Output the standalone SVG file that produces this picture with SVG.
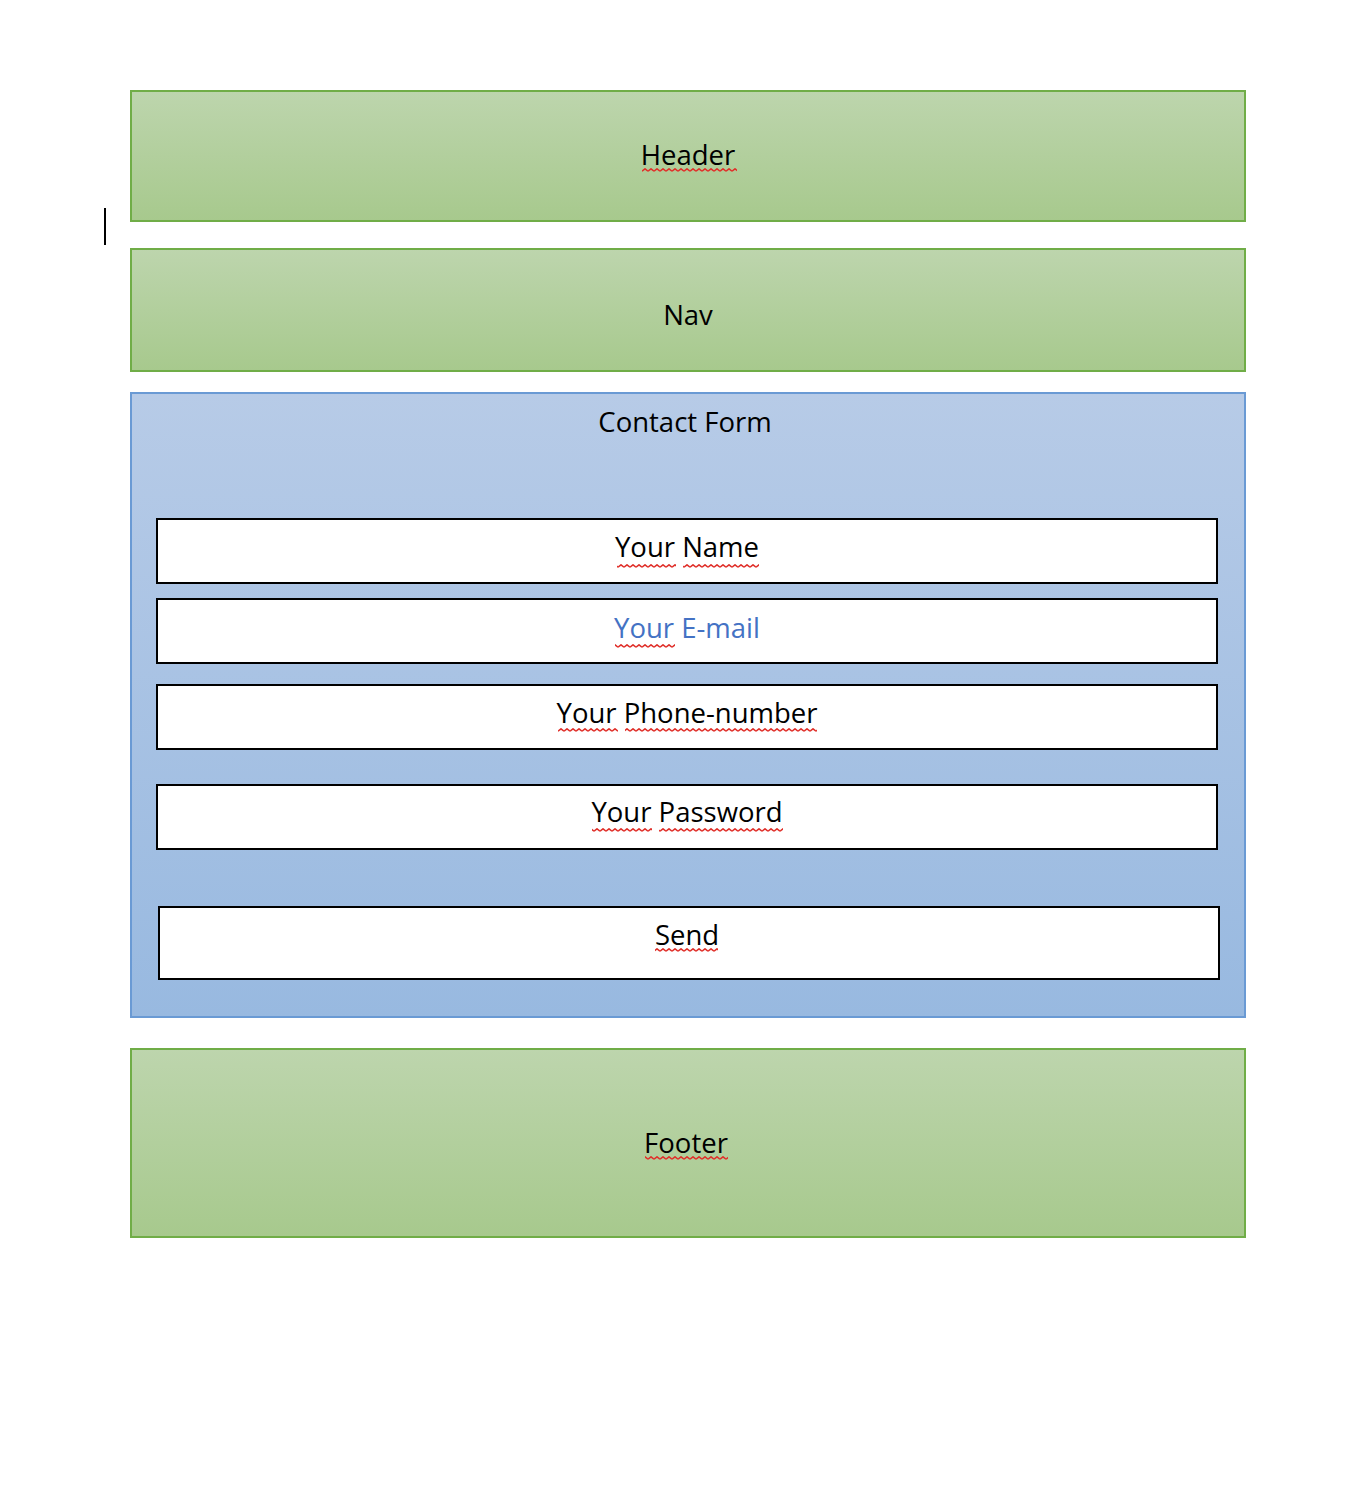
<svg xmlns="http://www.w3.org/2000/svg" width="1370" height="1510" viewBox="0 0 1370 1510">
<style>
.lbl{font-family:"Open Sans","Noto Sans","Liberation Sans",sans-serif;font-size:27.5px;fill:#000;text-anchor:middle}
.grn{fill:url(#gg);stroke:#70AD47;stroke-width:2}
.blu{fill:url(#gb);stroke:#6A9AD4;stroke-width:2}
.fld{fill:#fff;stroke:#000;stroke-width:2}
.sq{fill:url(#sqp)}
</style>
<defs>
<linearGradient id="gg" x1="0" y1="0" x2="0" y2="1">
<stop offset="0" stop-color="#BDD5AD"/><stop offset="1" stop-color="#A7C98D"/>
</linearGradient>
<linearGradient id="gb" x1="0" y1="0" x2="0" y2="1">
<stop offset="0" stop-color="#B7CBE7"/><stop offset="1" stop-color="#98B9E0"/>
</linearGradient>
<pattern id="sqp" patternUnits="userSpaceOnUse" width="6" height="4">
<path d="M0 3.2 L3 0.8 L6 3.2" fill="none" stroke="#E0302A" stroke-width="1.5"/>
</pattern>
</defs>
<rect width="1370" height="1510" fill="#fff"/>
<line x1="105" y1="208" x2="105" y2="245" stroke="#000" stroke-width="2"/>
<g id="header"><rect class="grn" x="131" y="91" width="1114" height="130"/><text class="lbl" x="688" y="165">Header</text><rect class="sq" x="642" y="168" width="95" height="4"/></g>
<g id="nav"><rect class="grn" x="131" y="249" width="1114" height="122"/><text class="lbl" x="688" y="325">Nav</text></g>
<g id="contact-form"><rect class="blu" x="131" y="393" width="1114" height="624"/><text class="lbl" x="685" y="432">Contact Form</text></g>
<g id="your-name"><rect class="fld" x="157" y="519" width="1060" height="64"/><text class="lbl" x="687" y="557">Your Name</text><rect class="sq" x="617" y="564" width="59" height="4"/><rect class="sq" x="683" y="564" width="76" height="4"/></g>
<g id="your-email"><rect class="fld" x="157" y="599" width="1060" height="64"/><text class="lbl" x="687" y="638" style="fill:#4472C4">Your E-mail</text><rect class="sq" x="615" y="644" width="60" height="4"/></g>
<g id="your-phone"><rect class="fld" x="157" y="685" width="1060" height="64"/><text class="lbl" x="687" y="723">Your Phone-number</text><rect class="sq" x="558" y="728" width="60" height="4"/><rect class="sq" x="625" y="728" width="192" height="4"/></g>
<g id="your-password"><rect class="fld" x="157" y="785" width="1060" height="64"/><text class="lbl" x="687" y="822">Your Password</text><rect class="sq" x="592" y="828" width="60" height="4"/><rect class="sq" x="659" y="828" width="124" height="4"/></g>
<g id="send"><rect class="fld" x="159" y="907" width="1060" height="72"/><text class="lbl" x="687" y="945">Send</text><rect class="sq" x="655" y="948" width="63" height="4"/></g>
<g id="footer"><rect class="grn" x="131" y="1049" width="1114" height="188"/><text class="lbl" x="686" y="1153">Footer</text><rect class="sq" x="645" y="1156" width="83" height="4"/></g>
<g id="connectors"/>
</svg>
